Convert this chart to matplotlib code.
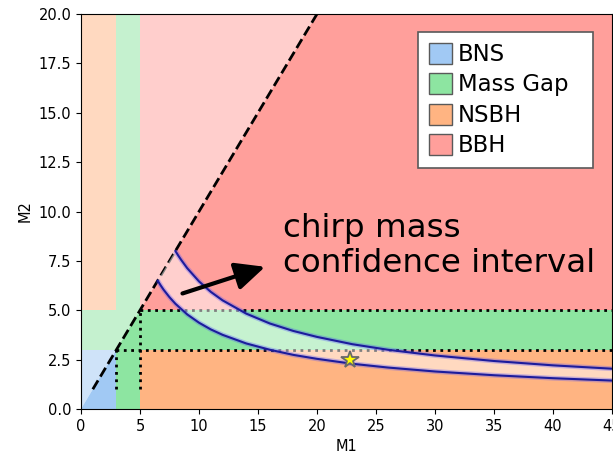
import matplotlib
matplotlib.use('Agg')
import matplotlib.pyplot as plt
from matplotlib.patches import Polygon, Rectangle, Patch

# ---- data -------------------------------------------------------------
categories = ['BNS', 'Mass Gap', 'NSBH', 'BBH']
colors = ['#a1c9f4', '#8de5a1', '#ffb482', '#ff9f9b']

ns_max = 3.0      # neutron-star upper mass
gap_max = 5.0     # mass-gap upper mass
x_max = 45
y_max = 20

x_ticks = [0, 5, 10, 15, 20, 25, 30, 35, 40, 45]
y_ticks = [0.0, 2.5, 5.0, 7.5, 10.0, 12.5, 15.0, 17.5, 20.0]

# upper edge of the chirp-mass confidence interval
m1_hi = [8.0, 8.25, 8.5, 9, 10, 11, 12, 14, 16, 18, 20, 23, 26, 30, 35, 40, 45]
m2_hi = [8.0, 7.76, 7.54, 7.13, 6.46, 5.93, 5.50, 4.83, 4.33, 3.95, 3.65, 3.28,
         3.00, 2.71, 2.43, 2.21, 2.04]
# lower edge
m1_lo = [6.5, 6.75, 7, 7.5, 8, 9, 10, 11, 12, 14, 16, 18, 20, 23, 26, 30, 35, 40, 45]
m2_lo = [6.5, 6.26, 6.04, 5.66, 5.33, 4.79, 4.37, 4.03, 3.755, 3.32, 3.00, 2.74,
         2.54, 2.29, 2.10, 1.90, 1.71, 1.56, 1.44]

star_m1 = [22.8]
star_m2 = [2.5]

diag_start = 1.0
dotted_start = 1.0

arrow_tail = (8.6, 5.85)
arrow_head = (15.6, 7.2)

# ---- figure -----------------------------------------------------------
W, H = 613, 454
fig = plt.figure(figsize=(W / 100, H / 100), dpi=100)
ax = fig.add_axes([81 / W, 45 / H, 531 / W, 395 / H])

regions = {
    'BNS': [(0, ns_max, 0, ns_max)],
    'Mass Gap': [(ns_max, gap_max, 0, y_max), (0, ns_max, ns_max, gap_max),
                 (gap_max, x_max, ns_max, gap_max)],
    'NSBH': [(gap_max, x_max, 0, ns_max), (0, ns_max, gap_max, y_max)],
    'BBH': [(gap_max, x_max, gap_max, y_max)],
}

big = 100
lower_clip = Polygon([(0, 0), (big, 0), (big, big)], closed=True, transform=ax.transData)
upper_clip = Polygon([(0, 0), (0, big), (big, big)], closed=True, transform=ax.transData)

for cat, col in zip(categories, colors):
    for (x0, x1, y0, y1) in regions[cat]:
        r1 = Rectangle((x0, y0), x1 - x0, y1 - y0, facecolor=col, lw=0, zorder=1)
        ax.add_patch(r1)
        r1.set_clip_path(lower_clip)
        r2 = Rectangle((x0, y0), x1 - x0, y1 - y0, facecolor=col, alpha=0.5, lw=0, zorder=1)
        ax.add_patch(r2)
        r2.set_clip_path(upper_clip)

# dotted class boundaries
ax.plot([ns_max, x_max], [ns_max, ns_max], color='black', ls=':', lw=2, zorder=2)
ax.plot([gap_max, x_max], [gap_max, gap_max], color='black', ls=':', lw=2, zorder=2)
ax.plot([ns_max, ns_max], [dotted_start, ns_max], color='black', ls=':', lw=2, zorder=2)
ax.plot([gap_max, gap_max], [dotted_start, gap_max], color='black', ls=':', lw=2, zorder=2)

# m1 = m2 line
ax.plot([diag_start, y_max], [diag_start, y_max], color='black', ls='--', lw=2, zorder=2)

# confidence band
band_x = m1_hi + m1_lo[::-1]
band_y = m2_hi + m2_lo[::-1]
ax.fill(band_x, band_y, color='white', alpha=0.5, lw=0, zorder=3)
for xs, ys in [(m1_hi, m2_hi), (m1_lo, m2_lo)]:
    ax.plot(xs, ys, color='#4a4aff', lw=3.5, alpha=0.3, zorder=4, solid_capstyle='butt')
    ax.plot(xs, ys, color='#1c1c9c', lw=1.5, zorder=5)

ax.plot(star_m1, star_m2, ls='none', marker='*', ms=13, mfc='yellow', mec='dimgray',
        mew=1.3, zorder=6)

ax.annotate('', xy=arrow_head, xytext=arrow_tail,
            arrowprops=dict(arrowstyle='-|>,head_length=0.6,head_width=0.28',
                            lw=3, color='black', mutation_scale=30,
                            shrinkA=0, shrinkB=0), zorder=7)

ax.text(17.12, 9.92, 'chirp mass\nconfidence interval', fontsize=23.4,
        family='DejaVu Sans', va='top', ha='left', linespacing=1.15, zorder=7)

handles = [Patch(facecolor=c, edgecolor='0.35', lw=1, label=l)
           for c, l in zip(colors, categories)]
leg = ax.legend(handles=handles, loc='upper left', bbox_to_anchor=(0.635, 0.955, 0.329, 0),
                mode='expand', borderaxespad=0, fontsize=16.4, handlelength=1.0,
                handleheight=1.05, handletextpad=0.25, labelspacing=0.31, borderpad=0.48,
                fancybox=False, framealpha=1, edgecolor='0.35')
leg.get_frame().set_linewidth(1.2)
leg.set_zorder(10)

ax.set_xlim(0, x_max)
ax.set_ylim(0, y_max)
ax.set_xticks(x_ticks)
ax.set_yticks(y_ticks)
ax.set_xticklabels([str(t) for t in x_ticks], fontsize=10.5)
ax.set_yticklabels([f'{t:.1f}' for t in y_ticks], fontsize=10.5)
ax.set_xlabel('M1', fontsize=10.5)
ax.set_ylabel('M2', fontsize=10.5)

fig.savefig('out.png', dpi=100)
